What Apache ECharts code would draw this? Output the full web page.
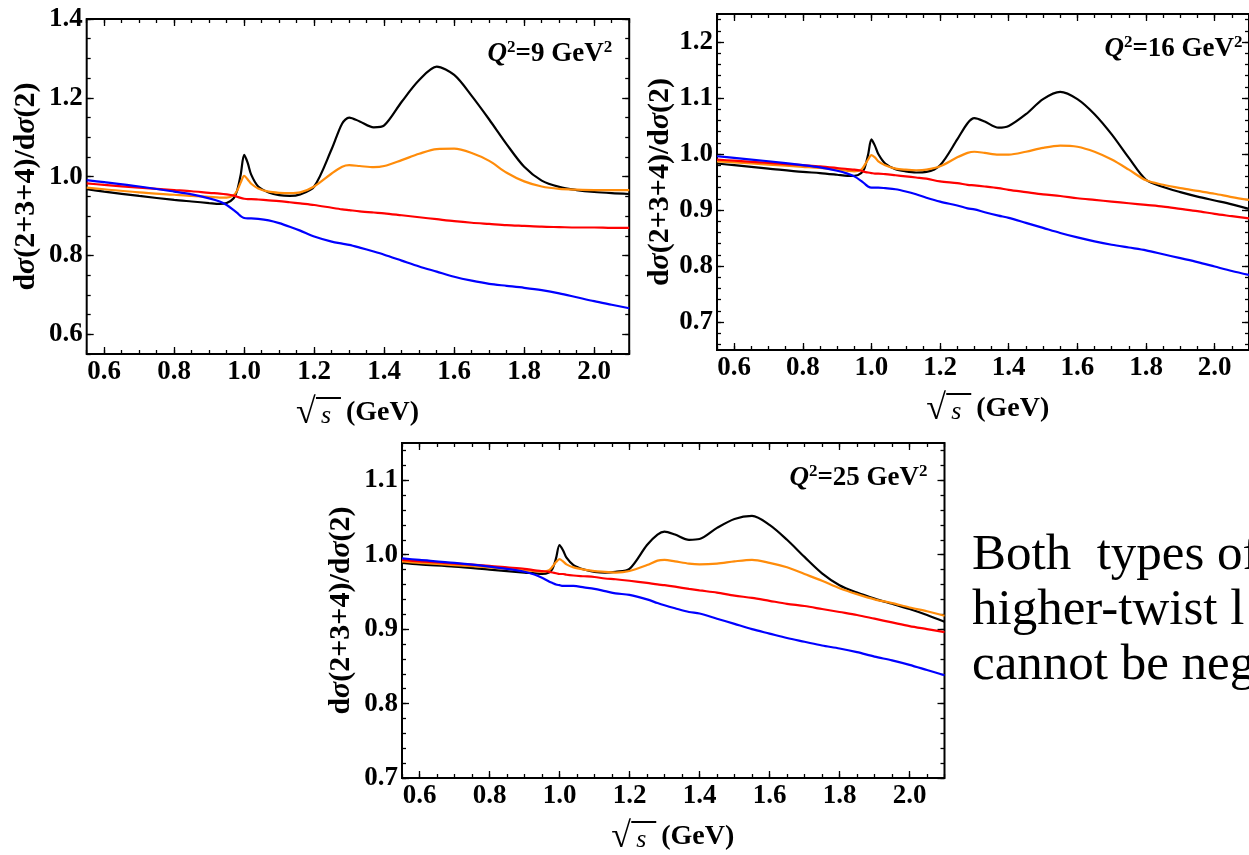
<!DOCTYPE html>
<html>
<head>
<meta charset="utf-8">
<script src="https://cdn.jsdelivr.net/npm/echarts@6/dist/echarts.min.js"></script>
<style>html,body{margin:0;padding:0;background:#fff;}#main{width:1249px;height:855px;}</style>
</head>
<body>
<div id="main"></div>
<script>
// ---- data ----
const xs = [0.55,0.6,0.7,0.8,0.85,0.9,0.93,0.95,0.97,0.98,0.99,1.0,1.01,1.02,1.04,1.07,1.1,1.13,1.16,1.2,1.25,1.28,1.3,1.33,1.37,1.4,1.45,1.5,1.55,1.6,1.65,1.7,1.75,1.8,1.85,1.9,1.95,2.0,2.05,2.1];

// Q^2 = 9
const p1Black  = [0.968,0.962,0.951,0.941,0.937,0.933,0.931,0.933,0.945,0.965,1.005,1.055,1.035,1.005,0.975,0.960,0.953,0.951,0.955,0.975,1.070,1.135,1.150,1.140,1.125,1.130,1.190,1.245,1.279,1.258,1.205,1.145,1.082,1.025,0.990,0.974,0.966,0.961,0.958,0.956];
const p1Orange = [0.972,0.968,0.960,0.954,0.951,0.949,0.947,0.947,0.953,0.965,0.985,1.002,0.993,0.982,0.970,0.962,0.959,0.958,0.960,0.975,1.008,1.025,1.029,1.027,1.024,1.027,1.042,1.058,1.070,1.071,1.060,1.040,1.010,0.988,0.975,0.969,0.967,0.966,0.966,0.966];
const p1Red    = [0.983,0.979,0.972,0.966,0.963,0.959,0.957,0.955,0.952,0.949,0.946,0.944,0.943,0.943,0.942,0.940,0.938,0.935,0.932,0.928,0.921,0.917,0.915,0.912,0.909,0.907,0.902,0.897,0.892,0.887,0.883,0.880,0.877,0.875,0.873,0.872,0.871,0.871,0.870,0.870];
const p1Blue   = [0.991,0.986,0.975,0.962,0.955,0.945,0.937,0.928,0.915,0.908,0.900,0.895,0.894,0.894,0.893,0.889,0.882,0.873,0.863,0.848,0.835,0.830,0.827,0.820,0.810,0.802,0.787,0.772,0.759,0.746,0.736,0.728,0.723,0.718,0.712,0.704,0.694,0.684,0.675,0.666];

// Q^2 = 16
const p2Black  = [0.983,0.980,0.974,0.968,0.966,0.963,0.961,0.961,0.966,0.975,0.998,1.026,1.015,1.000,0.983,0.973,0.969,0.967,0.968,0.980,1.026,1.055,1.064,1.058,1.047,1.050,1.071,1.098,1.111,1.098,1.071,1.035,0.993,0.954,0.941,0.932,0.924,0.917,0.910,0.902];
const p2Orange = [0.987,0.985,0.981,0.977,0.975,0.972,0.970,0.969,0.972,0.980,0.990,0.998,0.994,0.987,0.980,0.974,0.972,0.971,0.972,0.978,0.994,1.002,1.004,1.002,0.999,0.999,1.004,1.011,1.015,1.013,1.004,0.990,0.972,0.953,0.945,0.939,0.934,0.929,0.923,0.918];
const p2Red    = [0.990,0.988,0.984,0.980,0.978,0.975,0.973,0.972,0.970,0.968,0.967,0.966,0.965,0.965,0.964,0.962,0.960,0.958,0.956,0.951,0.948,0.945,0.944,0.942,0.939,0.936,0.932,0.928,0.925,0.921,0.918,0.915,0.912,0.909,0.906,0.902,0.898,0.893,0.889,0.885];
const p2Blue   = [0.996,0.993,0.987,0.980,0.976,0.970,0.965,0.960,0.952,0.947,0.942,0.940,0.940,0.940,0.939,0.937,0.933,0.928,0.922,0.915,0.908,0.903,0.901,0.896,0.890,0.886,0.877,0.868,0.859,0.851,0.844,0.838,0.833,0.828,0.821,0.814,0.807,0.799,0.791,0.784];

// Q^2 = 25
const p3Black  = [0.989,0.987,0.984,0.980,0.978,0.976,0.975,0.974,0.976,0.981,0.995,1.013,1.006,0.996,0.986,0.980,0.977,0.976,0.977,0.981,1.013,1.027,1.031,1.027,1.020,1.021,1.036,1.048,1.052,1.040,1.020,0.997,0.975,0.959,0.949,0.941,0.934,0.927,0.919,0.910];
const p3Orange = [0.991,0.989,0.986,0.983,0.981,0.979,0.978,0.977,0.979,0.984,0.990,0.994,0.991,0.987,0.983,0.980,0.978,0.977,0.976,0.978,0.986,0.992,0.993,0.991,0.988,0.987,0.988,0.991,0.993,0.989,0.983,0.974,0.965,0.955,0.947,0.940,0.935,0.929,0.924,0.918];
const p3Red    = [0.993,0.991,0.988,0.985,0.983,0.981,0.979,0.978,0.977,0.976,0.975,0.974,0.974,0.973,0.972,0.971,0.970,0.968,0.967,0.965,0.962,0.960,0.959,0.957,0.954,0.952,0.949,0.945,0.942,0.938,0.934,0.931,0.927,0.923,0.919,0.914,0.909,0.904,0.900,0.896];
const p3Blue   = [0.995,0.993,0.989,0.984,0.981,0.977,0.973,0.969,0.964,0.962,0.960,0.959,0.958,0.958,0.958,0.956,0.954,0.951,0.948,0.946,0.940,0.935,0.932,0.928,0.923,0.921,0.914,0.907,0.900,0.894,0.888,0.883,0.878,0.874,0.869,0.863,0.858,0.852,0.845,0.838];

// tick labels
const xMajorTicks = [0.6,0.8,1.0,1.2,1.4,1.6,1.8,2.0];
const p1YTicks = [0.6,0.8,1.0,1.2,1.4];
const p2YTicks = [0.7,0.8,0.9,1.0,1.1,1.2];
const p3YTicks = [0.7,0.8,0.9,1.0,1.1];
const q2Labels = ['9','16','25'];
const sideText = ['Both  types of', 'higher-twist l', 'cannot be neglected'];

// ---- helpers ----
const FONT = "'Liberation Serif','Times New Roman',serif";
function steps(a, b, s) { const r = []; for (let v = a; v <= b + 1e-9; v += s) r.push(Math.round(v * 1000) / 1000); return r; }
const xMinorTicks = steps(0.55, 2.1, 0.05);

const panels = [
  { left: 86.7, top: 19, h: 335, ymin: 0.55, ymax: 1.4, yMaj: p1YTicks, yMin: steps(0.55, 1.4, 0.05),
    s: [p1Black, p1Orange, p1Red, p1Blue], q: q2Labels[0], titleDx: 60 },
  { left: 717, top: 14, h: 336, ymin: 0.65, ymax: 1.25, yMaj: p2YTicks, yMin: steps(0.66, 1.24, 0.02),
    s: [p2Black, p2Orange, p2Red, p2Blue], q: q2Labels[1], titleDx: 57 },
  { left: 402, top: 443, h: 335, ymin: 0.7, ymax: 1.15, yMaj: p3YTicks, yMin: steps(0.7, 1.14, 0.02),
    s: [p3Black, p3Orange, p3Red, p3Blue], q: q2Labels[2], titleDx: 61 }
];
const W = 542.5;
const colors = ['#000000', '#ff8c0a', '#ff0000', '#0000ff'];

const grid = [], xAxis = [], yAxis = [], series = [], graphic = [];
const labelStyle = { fontFamily: FONT, fontWeight: 'bold', fontSize: 27, color: '#000' };

function axisCommon(g, pos, min, max, ticks, len, withLabel, margin) {
  return {
    type: 'value', gridIndex: g, position: pos, min: min, max: max,
    axisLine: { show: false, onZero: false }, splitLine: { show: false },
    axisTick: { show: true, inside: true, length: len, customValues: ticks, lineStyle: { color: '#000', width: 1.3 } },
    axisLabel: withLabel ? Object.assign({ show: true, customValues: ticks, margin: margin, formatter: v => v.toFixed(1) }, labelStyle) : { show: false }
  };
}

panels.forEach((p, g) => {
  grid.push({ left: p.left, top: p.top, width: W, height: p.h, show: true, borderColor: '#000', borderWidth: 2, backgroundColor: 'transparent' });
  xAxis.push(axisCommon(g, 'bottom', 0.55, 2.1, xMajorTicks, 7, true, 5));
  xAxis.push(axisCommon(g, 'bottom', 0.55, 2.1, xMinorTicks, 4, false));
  xAxis.push(axisCommon(g, 'top', 0.55, 2.1, xMajorTicks, 7, false));
  xAxis.push(axisCommon(g, 'top', 0.55, 2.1, xMinorTicks, 4, false));
  yAxis.push(axisCommon(g, 'left', p.ymin, p.ymax, p.yMaj, 7, true, 4));
  yAxis.push(axisCommon(g, 'left', p.ymin, p.ymax, p.yMin, 4, false));
  yAxis.push(axisCommon(g, 'right', p.ymin, p.ymax, p.yMaj, 7, false));
  yAxis.push(axisCommon(g, 'right', p.ymin, p.ymax, p.yMin, 4, false));
  p.s.forEach((arr, k) => {
    series.push({
      type: 'line', xAxisIndex: 4 * g, yAxisIndex: 4 * g, showSymbol: false, smooth: 0.3,
      data: xs.map((x, i) => [x, arr[i]]),
      lineStyle: { color: colors[k], width: 2.2 }, itemStyle: { color: colors[k] }, z: 2 + k
    });
  });
  // y axis title
  graphic.push({
    type: 'text', x: p.left - p.titleDx, y: p.top + p.h / 2, rotation: Math.PI / 2,
    style: {
      text: '{b|d}{g|σ}{b|(2+3+4)/d}{g|σ}{b|(2)}', align: 'center', verticalAlign: 'middle',
      rich: {
        b: { fontFamily: FONT, fontWeight: 'bold', fontSize: 30, fill: '#000' },
        g: { fontFamily: FONT, fontWeight: 'bold', fontStyle: 'italic', fontSize: 30, fill: '#000' }
      }
    }
  });
  // x axis title: sqrt(s) (GeV)
  const cx = p.left + W / 2, cy = p.top + p.h + 59;
  graphic.push({
    type: 'group', x: cx, y: cy,
    children: [
      { type: 'text', style: { text: '√', x: -62, y: 1, fontFamily: FONT, fontWeight: 'bold', fontSize: 36, fill: '#000', verticalAlign: 'middle' } },
      { type: 'line', shape: { x1: -42, y1: -15, x2: -17, y2: -15 }, style: { stroke: '#000', lineWidth: 2 } },
      { type: 'text', style: { text: 's', x: -37, y: 3, fontFamily: FONT, fontStyle: 'italic', fontSize: 26, fill: '#000', verticalAlign: 'middle' } },
      { type: 'text', style: { text: '(GeV)', x: -12, y: 0, fontFamily: FONT, fontWeight: 'bold', fontSize: 28, fill: '#000', verticalAlign: 'middle' } }
    ]
  });
  // Q^2 annotation
  graphic.push({
    type: 'text', x: p.left + W - 17, y: p.top + 35,
    style: {
      text: '{q|Q}{s|2}{n|=' + p.q + ' GeV}{s|2}', align: 'right', verticalAlign: 'middle',
      rich: {
        q: { fontFamily: FONT, fontWeight: 'bold', fontStyle: 'italic', fontSize: 27, lineHeight: 30, fill: '#000' },
        n: { fontFamily: FONT, fontWeight: 'bold', fontSize: 27, lineHeight: 30, fill: '#000' },
        s: { fontFamily: FONT, fontWeight: 'bold', fontSize: 17, lineHeight: 17, verticalAlign: 'top', fill: '#000' }
      }
    }
  });
});

graphic.push({
  type: 'text', x: 972, y: 528,
  style: { text: sideText.join('\n'), fontFamily: FONT, fontSize: 51, lineHeight: 55, fill: '#000', align: 'left', verticalAlign: 'top' }
});

const chart = echarts.init(document.getElementById('main'), null, { renderer: 'canvas' });
chart.setOption({ animation: false, backgroundColor: '#fff', grid, xAxis, yAxis, series, graphic });
</script>
</body>
</html>
